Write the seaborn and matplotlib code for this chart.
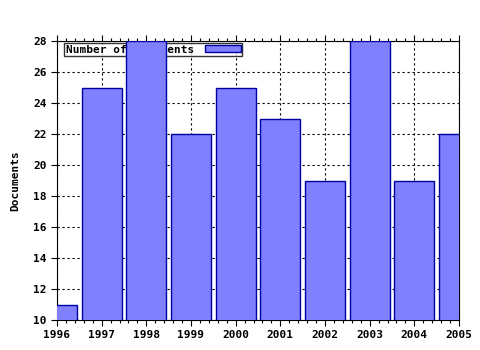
import matplotlib
matplotlib.use("Agg")
import matplotlib.pyplot as plt
import seaborn as sns
import numpy as np
from matplotlib.ticker import MultipleLocator, AutoMinorLocator

years = [1996, 1997, 1998, 1999, 2000, 2001, 2002, 2003, 2004, 2005]
documents = [11, 25, 28, 22, 25, 23, 19, 28, 19, 22]
series_label = "Number of documents"
y_label = "Documents"

sns.set_style("ticks")
plt.rcParams['font.family'] = ['DejaVu Sans Mono']
plt.rcParams['font.weight'] = 'bold'
plt.rcParams['text.color'] = 'black'
plt.rcParams['axes.labelcolor'] = 'black'
plt.rcParams['xtick.color'] = 'black'
plt.rcParams['ytick.color'] = 'black'

fig = plt.figure(figsize=(4.8, 3.5), dpi=100)
ax = fig.add_axes([57/480, 1-320/350, (459-57)/480, (320-41)/350])

sns.barplot(x=years, y=documents, native_scale=True, width=0.9,
            color="#8080FF", saturation=1, edgecolor="#0000A0", linewidth=1,
            label=series_label, ax=ax, zorder=3)

ax.set_xlim(1996, 2005)
ax.set_ylim(10, 28)
ax.xaxis.set_major_locator(MultipleLocator(1))
ax.xaxis.set_minor_locator(AutoMinorLocator(5))
ax.yaxis.set_major_locator(MultipleLocator(2))
ax.xaxis.set_major_formatter(plt.FuncFormatter(lambda v, p: f"{int(round(v))}"))
ax.grid(True, which="major", color="black", linestyle=(0, (2, 2.5)), linewidth=0.8, zorder=0)
ax.set_axisbelow(True)
ax.tick_params(axis="both", which="major", direction="out", length=4, width=0.8,
               labelsize=8, colors="black", top=True, right=False)
ax.tick_params(axis="x", which="minor", direction="out", length=2, width=0.8, top=True)
for lab in ax.get_xticklabels() + ax.get_yticklabels():
    lab.set_fontweight("bold")
for s in ax.spines.values():
    s.set_visible(True)
    s.set_color("black")
    s.set_linewidth(0.8)

ax.set_xlabel("")
ax.set_ylabel(y_label, fontsize=8, fontweight="bold", labelpad=9, color="black")

leg = ax.legend(loc="upper left", bbox_to_anchor=(7/402, 1 - 2/279), markerfirst=False,
                fontsize=8, frameon=True, fancybox=False, borderpad=0.15,
                handlelength=3.2, handleheight=0.6, handletextpad=1.0, borderaxespad=0)
leg.get_frame().set_edgecolor("black")
leg.get_frame().set_linewidth(1)
leg.set_zorder(2)
for t in leg.get_texts():
    t.set_fontweight("bold")
    t.set_color("black")

fig.savefig("out.png", dpi=100)
